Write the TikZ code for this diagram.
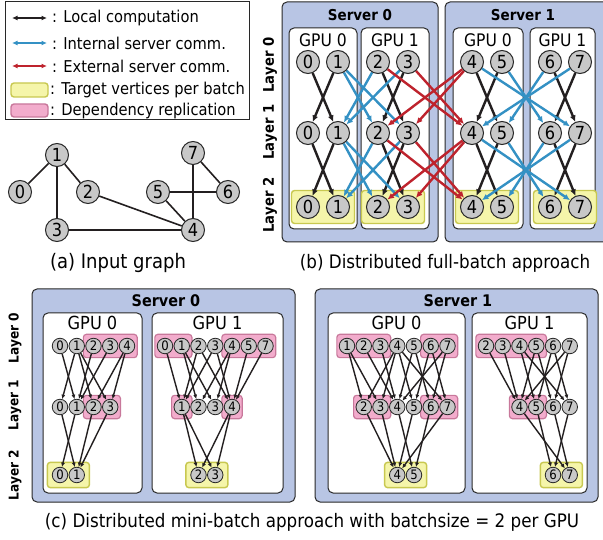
\documentclass[tikz,border=0pt]{standalone}
\usepackage{fontspec}
\setmainfont{DejaVu Sans}[FakeStretch=0.9]
\usetikzlibrary{arrows.meta,fit}
\pgfdeclarelayer{back}
\pgfdeclarelayer{mid}
\pgfsetlayers{back,mid,main}
\definecolor{srvfill}{RGB}{184,197,228}
\definecolor{nodefill}{RGB}{200,200,200}
\definecolor{edgeblk}{RGB}{35,31,32}
\definecolor{edgeblue}{RGB}{52,145,196}
\definecolor{edgered}{RGB}{190,35,45}
\definecolor{yelfill}{RGB}{245,245,170}
\definecolor{yeldraw}{RGB}{200,200,80}
\definecolor{pinkfill}{RGB}{242,172,204}
\definecolor{pinkdraw}{RGB}{200,120,155}
\definecolor{outline}{RGB}{40,40,40}
\newcommand\fsz[1]{\fontsize{#1}{#1}\selectfont}
\tikzset{
  bignode/.style={circle,draw=outline,fill=nodefill,line width=1pt,minimum size=23pt,inner sep=0pt,font=\fsz{18}},
  smallnode/.style={circle,draw=outline,fill=nodefill,line width=0.8pt,minimum size=15.5pt,inner sep=0pt,font=\fsz{13}},
  server/.style={draw=outline,fill=srvfill,rounded corners=5pt,line width=1pt},
  gpu/.style={draw=outline,fill=white,rounded corners=5pt,line width=1pt},
  ybox/.style={draw=yeldraw,fill=yelfill,rounded corners=3pt,line width=1.4pt,inner sep=4.5pt},
  pbox/.style={draw=pinkdraw,fill=pinkfill,rounded corners=3pt,line width=1.2pt,inner xsep=2pt,inner ysep=3.5pt},
  fb/.style={line width=2.4pt,-{Latex[length=6.5pt,width=6pt]}},
  mb/.style={line width=1.4pt,draw=edgeblk,-{Latex[length=4.5pt,width=4pt]}},
  gedge/.style={line width=1.6pt,draw=edgeblk},
  legarrow/.style={line width=2.2pt,{Latex[length=5.5pt,width=5pt]}-{Latex[length=5.5pt,width=5pt]}},
  legtext/.style={anchor=west,inner sep=0pt,font=\fsz{16.3}},
  caption/.style={inner sep=0pt,font=\fsz{#1}},
  srvtitle/.style={inner sep=0pt,font=\bfseries\fsz{#1}},
  gpulabel/.style={inner sep=0pt,font=\fsz{#1}},
  layerlabel/.style={inner sep=0pt,rotate=90,font=\bfseries\fsz{#1}},
}
\newcommand\mbedges[4]{\foreach \s/\t in {#4} \draw[mb] (c#1-#2-\s) -- (c#1-#3-\t);}
\begin{document}
\begin{tikzpicture}[x=1pt,y=-1pt]
\useasboundingbox (0,0) rectangle (603,540);

% ---------- legend ----------
\draw[draw=outline,line width=0.8pt] (5,1) rectangle (249,119);
\foreach \n/\y/\c in {1/18/edgeblk,2/43/edgeblue,3/66/edgered}{
  \coordinate (la\n) at (12,\y);
  \coordinate (lb\n) at (47,\y);
  \draw[legarrow,draw=\c,fill=\c] (la\n) -- (lb\n);
}
\draw[draw=yeldraw,fill=yelfill,rounded corners=3pt,line width=1.4pt] (11,83) rectangle (48,97);
\draw[draw=pinkdraw,fill=pinkfill,rounded corners=3pt,line width=1.4pt] (11,104) rectangle (48,117);
\node[legtext] (lt1) at (52,18) {: Local computation};
\node[legtext] (lt2) at (52,43) {: Internal server comm.};
\node[legtext] (lt3) at (52,66) {: External server comm.};
\node[legtext] (lt4) at (50,90) {: Target vertices per batch};
\node[legtext] (lt5) at (50,111) {: Dependency replication};

% ---------- (a) input graph ----------
\node[bignode] (g1) at (57,155) {1};
\node[bignode] (g0) at (20,192) {0};
\node[bignode] (g2) at (88,192) {2};
\node[bignode] (g3) at (57,230) {3};
\node[bignode] (g7) at (193,153) {7};
\node[bignode] (g5) at (158,192) {5};
\node[bignode] (g6) at (228,192) {6};
\node[bignode] (g4) at (193,230) {4};
\begin{pgfonlayer}{mid}
\foreach \a/\b in {1/0,1/2,1/3,2/4,3/4,5/6,5/4,7/6,7/4} \draw[gedge] (g\a) -- (g\b);
\end{pgfonlayer}
\node[caption=20] (capa) at (118,263) {(a) Input graph};

% ---------- boxes ----------
\begin{pgfonlayer}{back}
\draw[server] (282,2) rectangle (438,242);
\draw[server] (445,2) rectangle (612,242);
\draw[gpu] (289,28) rectangle (357,229);
\draw[gpu] (361,28) rectangle (429,229);
\draw[gpu] (453,28) rectangle (523,229);
\draw[gpu] (530,28) rectangle (595,229);
\draw[server] (32,289) rectangle (295,502);
\draw[server] (315,289) rectangle (598,502);
\draw[gpu] (43,313) rectangle (142,493);
\draw[gpu] (152,313) rectangle (283,493);
\draw[gpu] (328,313) rectangle (465,493);
\draw[gpu] (472,313) rectangle (587,493);
\end{pgfonlayer}

% ---------- (b) full batch ----------
\node[srvtitle=15] (bs0) at (360,15) {Server 0};
\node[srvtitle=15] (bs1) at (523,15) {Server 1};
\node[gpulabel=17.3] (bg00) at (323,40) {GPU 0};
\node[gpulabel=17.3] (bg01) at (395,40) {GPU 1};
\node[gpulabel=17.3] (bg10) at (488,40) {GPU 0};
\node[gpulabel=17.3] (bg11) at (562.5,40) {GPU 1};
\node[layerlabel=14.7] (bl0) at (270,65) {Layer 0};
\node[layerlabel=14.7] (bl1) at (270,132) {Layer 1};
\node[layerlabel=14.7] (bl2) at (270,205) {Layer 2};
\foreach \l/\y in {0/62,1/133,2/207}
  \foreach \i/\x in {0/308,1/338,2/378,3/408,4/472,5/502,6/550,7/580}
    \node[bignode] (b\l\i) at (\x,\y) {\i};
\begin{pgfonlayer}{mid}
\node[ybox,fit=(b20)(b21)] (by0) {};
\node[ybox,fit=(b22)(b23)] (by1) {};
\node[ybox,fit=(b24)(b25)] (by2) {};
\node[ybox,fit=(b26)(b27)] (by3) {};
\foreach \l/\m in {0/1,1/2}{
  \foreach \s/\t in {0/1,1/0,2/3,3/2,4/5,5/4,6/7,7/6} \draw[fb,draw=edgeblk,fill=edgeblk] (b\l\s) -- (b\m\t);
  \foreach \s/\t in {1/2,1/3,2/1,3/1,4/7,7/4,5/6,6/5} \draw[fb,draw=edgeblue,fill=edgeblue] (b\l\s) -- (b\m\t);
  \foreach \s/\t in {2/4,3/4,4/2,4/3} \draw[fb,draw=edgered,fill=edgered] (b\l\s) -- (b\m\t);
}
\end{pgfonlayer}
\node[caption=18.6] (capb) at (445,263) {(b) Distributed full-batch approach};

% ---------- (c) mini batch ----------
\node[srvtitle=16] (cs0) at (166,301) {Server 0};
\node[srvtitle=16] (cs1) at (458,301) {Server 1};
\node[gpulabel=18] (cg00) at (92.5,323) {GPU 0};
\node[gpulabel=18] (cg01) at (217.5,323) {GPU 1};
\node[gpulabel=18] (cg10) at (396.5,323) {GPU 0};
\node[gpulabel=18] (cg11) at (529.5,323) {GPU 1};
\node[layerlabel=13.5] (cl0) at (15,338) {Layer 0};
\node[layerlabel=13.5] (cl1) at (15,405) {Layer 1};
\node[layerlabel=13.5] (cl2) at (15,475) {Layer 2};

% server 0 gpu 0
\foreach \k/\i in {0/0,1/1,2/2,3/3,4/4} \node[smallnode] (c00-0-\i) at (60+\k*16.75,346) {\i};
\foreach \k/\i in {0/0,1/1,2/2,3/3} \node[smallnode] (c00-1-\i) at (60+\k*16.75,407) {\i};
\foreach \k/\i in {0/0,1/1} \node[smallnode] (c00-2-\i) at (60+\k*16.75,475) {\i};
% server 0 gpu 1
\foreach \k/\i in {0/0,1/1,2/2,3/3,4/4,5/5,6/7} \node[smallnode] (c01-0-\i) at (165+\k*16.75,346) {\i};
\foreach \k/\i in {1/1,2/2,3/3,4/4} \node[smallnode] (c01-1-\i) at (165+\k*16.75,407) {\i};
\foreach \k/\i in {2/2,3/3} \node[smallnode] (c01-2-\i) at (165+\k*16.75,475) {\i};
% server 1 gpu 0
\foreach \k/\i in {0/1,1/2,2/3,3/4,4/5,5/6,6/7} \node[smallnode] (c10-0-\i) at (347+\k*16.75,346) {\i};
\foreach \k/\i in {1/2,2/3,3/4,4/5,5/6,6/7} \node[smallnode] (c10-1-\i) at (347+\k*16.75,407) {\i};
\foreach \k/\i in {3/4,4/5} \node[smallnode] (c10-2-\i) at (347+\k*16.75,475) {\i};
% server 1 gpu 1
\foreach \k/\i in {0/2,1/3,2/4,3/5,4/6,5/7} \node[smallnode] (c11-0-\i) at (486+\k*16.75,346) {\i};
\foreach \k/\i in {2/4,3/5,4/6,5/7} \node[smallnode] (c11-1-\i) at (486+\k*16.75,407) {\i};
\foreach \k/\i in {4/6,5/7} \node[smallnode] (c11-2-\i) at (486+\k*16.75,475) {\i};

\begin{pgfonlayer}{mid}
\node[pbox,fit=(c00-0-2)(c00-0-4)] (p1) {};
\node[pbox,fit=(c00-1-2)(c00-1-3)] (p2) {};
\node[ybox,fit=(c00-2-0)(c00-2-1)] (y1) {};
\node[pbox,fit=(c01-0-0)(c01-0-1)] (p3) {};
\node[pbox,fit=(c01-0-4)(c01-0-7)] (p4) {};
\node[pbox,fit=(c01-1-1)] (p5) {};
\node[pbox,fit=(c01-1-4)] (p6) {};
\node[ybox,fit=(c01-2-2)(c01-2-3)] (y2) {};
\node[pbox,fit=(c10-0-1)(c10-0-3)] (p7) {};
\node[pbox,fit=(c10-0-6)(c10-0-7)] (p8) {};
\node[pbox,fit=(c10-1-2)(c10-1-3)] (p9) {};
\node[pbox,fit=(c10-1-6)(c10-1-7)] (p10) {};
\node[ybox,fit=(c10-2-4)(c10-2-5)] (y3) {};
\node[pbox,fit=(c11-0-2)(c11-0-5)] (p11) {};
\node[pbox,fit=(c11-1-4)(c11-1-5)] (p12) {};
\node[ybox,fit=(c11-2-6)(c11-2-7)] (y4) {};

\mbedges{00}{0}{1}{1/0,0/1,2/1,3/1,1/2,4/2,1/3,4/3}
\mbedges{00}{1}{2}{1/0,0/1,2/1,3/1}
\mbedges{01}{0}{1}{0/1,2/1,3/1,1/2,4/2,1/3,4/3,2/4,3/4,5/4,7/4}
\mbedges{01}{1}{2}{1/2,4/2,1/3,4/3}
\mbedges{10}{0}{1}{1/2,4/2,1/3,4/3,2/4,3/4,5/4,7/4,4/5,6/5,5/6,7/6,4/7,6/7}
\mbedges{10}{1}{2}{2/4,3/4,5/4,7/4,4/5,6/5}
\mbedges{11}{0}{1}{2/4,3/4,5/4,7/4,4/5,6/5,5/6,7/6,4/7,6/7}
\mbedges{11}{1}{2}{5/6,7/6,4/7,6/7}
\end{pgfonlayer}

\node[caption=18.6] (capc) at (312,522) {(c) Distributed mini-batch approach with batchsize = 2 per GPU};
\end{tikzpicture}
\end{document}
